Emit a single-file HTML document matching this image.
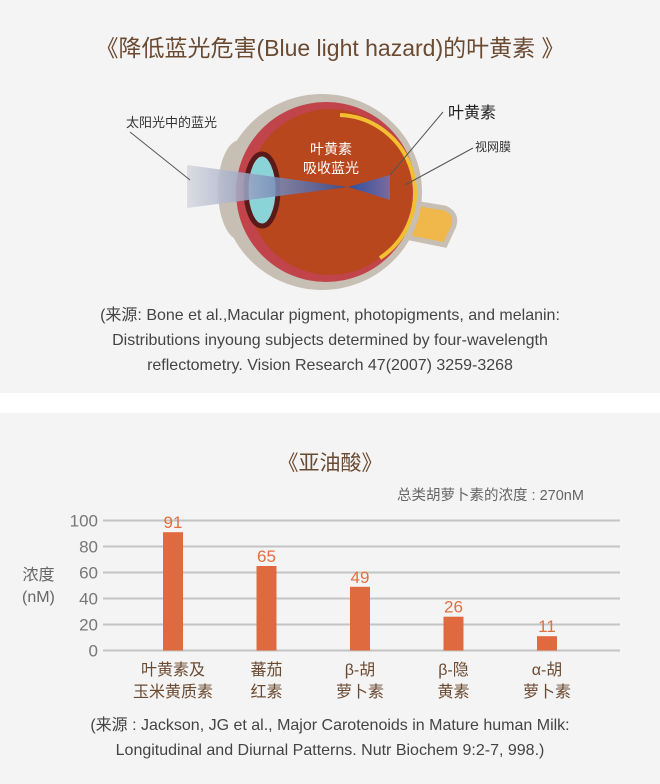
<!DOCTYPE html>
<html><head><meta charset="utf-8"><style>
body{margin:0;width:660px;height:784px;background:#fff;font-family:"Liberation Sans","Noto Sans CJK SC",sans-serif;overflow:hidden;position:relative}
.sec{position:absolute;left:0;width:660px;background:#f4f4f4}
.t{position:absolute;white-space:nowrap}
</style></head><body>
<div class="sec" style="top:0;height:393px">
<div class="t" style="left:0;width:660px;text-align:center;top:29px;font-size:23px;color:#6b4a32">《降低蓝光危害(Blue light hazard)的叶黄素 》</div>
<svg width="660" height="300" style="position:absolute;left:0;top:0">
<defs><linearGradient id="beam" x1="0" x2="1"><stop offset="0" stop-color="#d8d8de"/><stop offset="1" stop-color="#2f4f9a"/></linearGradient>
<linearGradient id="beam2" x1="0" x2="1"><stop offset="0" stop-color="#2f4f9a"/><stop offset="1" stop-color="#7a6aa0"/></linearGradient></defs>
<path d="M395,200 L445,208 Q460,215 452,230 L445,245 L395,235 Z" fill="#f0b84a" stroke="#c8bfb4" stroke-width="5"/>
<ellipse cx="240" cy="190" rx="22" ry="50" fill="#c8bfb4"/>
<ellipse cx="322" cy="192" rx="100" ry="98" fill="#c8bfb4"/>
<ellipse cx="326" cy="192" rx="90" ry="90" fill="#c0444a"/>
<ellipse cx="330" cy="192" rx="82" ry="83" fill="#b8471e"/>
<path d="M340,115 A78,78 0 0 1 380,258" stroke="#f2c030" stroke-width="4" fill="none"/>
<ellipse cx="262" cy="190" rx="16" ry="36" fill="#8ad4d8" stroke="#5a1a1a" stroke-width="5"/>
<path d="M187,165 L348,187 L187,208 Z" fill="url(#beam)" opacity=".85"/>
<path d="M348,187 L390,175 L390,200 Z" fill="url(#beam2)"/>
<line x1="130" y1="132" x2="190" y2="180" stroke="#555"/>
<line x1="443" y1="112" x2="390" y2="175" stroke="#555"/>
<line x1="473" y1="148" x2="405" y2="185" stroke="#555"/>
</svg>
<div class="t" style="left:126px;top:112px;font-size:13px;color:#333">太阳光中的蓝光</div>
<div class="t" style="left:448px;top:99px;font-size:16px;color:#222">叶黄素</div>
<div class="t" style="left:475px;top:138px;font-size:12px;color:#333">视网膜</div>
<div class="t" style="left:303px;top:140px;font-size:14px;color:#fff;line-height:19px;text-align:center">叶黄素<br>吸收蓝光</div>
<div class="t" style="left:0;width:660px;text-align:center;top:303px;font-size:16px;color:#444;line-height:25px">(来源: Bone et al.,Macular pigment, photopigments, and melanin:<br>Distributions inyoung subjects determined by four-wavelength<br>reflectometry. Vision Research 47(2007) 3259-3268</div>
</div>
<div class="sec" style="top:413px;height:371px">
<div class="t" style="left:0;width:660px;text-align:center;top:34px;font-size:21px;color:#6b4a32">《亚油酸》</div>
<div class="t" style="left:397px;top:71px;font-size:14.5px;color:#666">总类胡萝卜素的浓度 : 270nM</div>
<div class="t" style="left:22px;top:152px;font-size:16px;color:#666;line-height:22px;text-align:center">浓度<br>(nM)</div>
<div class="t" style="left:0;width:660px;text-align:center;top:300px;font-size:16px;color:#444;line-height:25px">(来源 : Jackson, JG et al., Major Carotenoids in Mature human Milk:<br>Longitudinal and Diurnal Patterns. Nutr Biochem 9:2-7, 998.)</div>
</div>
<svg id="chart" width="660" height="784" style="position:absolute;left:0;top:0"></svg>
<script>
const categories=[["叶黄素及","玉米黄质素"],["蕃茄","红素"],["β-胡","萝卜素"],["β-隐","黄素"],["α-胡","萝卜素"]];
const values=[91,65,49,26,11];
const ticks=[0,20,40,60,80,100];
const NS="http://www.w3.org/2000/svg";
const svg=document.getElementById('chart');
const y=v=>650.5-v*1.3, x=i=>173+i*93.5;
function mk(t,a){const e=document.createElementNS(NS,t);for(const k in a)e.setAttribute(k,a[k]);svg.appendChild(e);return e;}
ticks.forEach(v=>{
const l=mk('line',{x1:103,x2:620,y1:y(v),y2:y(v),stroke:'#c4c4c4','stroke-width':2});


const t=mk('text',{x:98,y:y(v)+6,'text-anchor':'end','font-size':17,fill:'#777','font-family':'Liberation Sans, sans-serif'});
t.textContent=v;


});
values.forEach((v,i)=>{
const r=mk('rect',{x:x(i)-10,y:y(v),width:20,height:y(0)-y(v),fill:'#df6a40'});


const t=mk('text',{x:x(i),y:y(v)-4,'text-anchor':'middle','font-size':17,fill:'#e07040','font-family':'Liberation Sans, sans-serif'});
t.textContent=v;


categories[i].forEach((s,j)=>{
const c=mk('text',{x:x(i),y:675+j*22,'text-anchor':'middle','font-size':16,fill:'#6b4a32','font-family':'Liberation Sans, Noto Sans CJK SC, sans-serif'});
c.textContent=s;


});
});
</script>
</body></html>
